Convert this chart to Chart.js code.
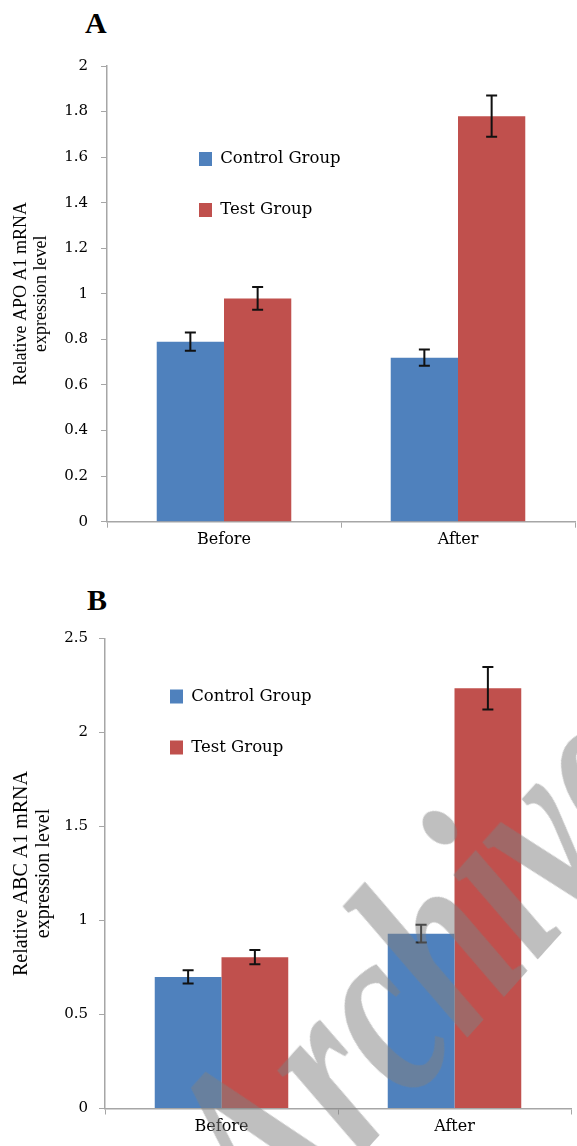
<!DOCTYPE html>
<html><head><meta charset="utf-8">
<script src="https://cdn.jsdelivr.net/npm/chart.js@4.4.0/dist/chart.umd.min.js"></script>
<style>
html,body{margin:0;padding:0;background:#fff;width:577px;height:1146px;overflow:hidden;position:relative;}
#wrapA{position:absolute;left:0;top:0;width:577px;height:560px;}
#wrapB{position:absolute;left:0;top:575px;width:577px;height:571px;}
.lbl{position:absolute;font-family:"Liberation Serif",serif;font-weight:bold;font-size:30px;line-height:30px;color:#000;}
#wm{position:absolute;left:277px;top:1031px;font-family:"Liberation Serif",serif;font-weight:bold;font-style:italic;
  font-size:260px;line-height:260px;color:rgba(128,128,128,0.5);white-space:nowrap;pointer-events:none;
  transform-origin:0 218px;transform:rotate(-48deg) scale(0.72,1);z-index:5;}
</style></head><body>
<div class="lbl" style="left:85px;top:8px">A</div>
<div class="lbl" style="left:87px;top:585px">B</div>
<div id="wrapA"><canvas id="chartA"></canvas></div>
<div id="wrapB"><canvas id="chartB"></canvas></div>
<div id="wm">Archive</div>
<script>
// ---- data ----
const categories = ['Before', 'After'];
const seriesNames = ['Control Group', 'Test Group'];
const apoControl = [0.79, 0.72];
const apoTest = [0.98, 1.78];
const apoControlErr = [0.04, 0.036];
const apoTestErr = [0.05, 0.09];
const abcControl = [0.70, 0.93];
const abcTest = [0.805, 2.235];
const abcControlErr = [0.035, 0.047];
const abcTestErr = [0.038, 0.113];
const apoTicks = [0, 0.2, 0.4, 0.6, 0.8, 1, 1.2, 1.4, 1.6, 1.8, 2];
const abcTicks = [0, 0.5, 1, 1.5, 2, 2.5];
const apoTitle = ['Relative APO A1 mRNA', 'expression level'];
const abcTitle = ['Relative ABC A1 mRNA', 'expression level'];

const BLUE = '#4F81BD', RED = '#C0504D', AXIS = '#a6a6a6';

const errorBarPlugin = {
  id: 'errorBars',
  afterDatasetsDraw(chart) {
    const ctx = chart.ctx, y = chart.scales.y;
    chart.data.datasets.forEach((ds, i) => {
      const meta = chart.getDatasetMeta(i);
      meta.data.forEach((bar, j) => {
        const v = ds.data[j], e = ds.errors[j];
        const yt = y.getPixelForValue(v + e), yb = y.getPixelForValue(v - e);
        ctx.save();
        ctx.strokeStyle = '#111'; ctx.lineWidth = 2;
        ctx.beginPath();
        ctx.moveTo(bar.x, yt); ctx.lineTo(bar.x, yb);
        ctx.moveTo(bar.x - 5.5, yt); ctx.lineTo(bar.x + 5.5, yt);
        ctx.moveTo(bar.x - 5.5, yb); ctx.lineTo(bar.x + 5.5, yb);
        ctx.stroke();
        ctx.restore();
      });
    });
  }
};

function legendShift(dx, dy) {
  return {
    id: 'legendShift',
    afterLayout(chart) {
      const lg = chart.legend, ca = chart.chartArea;
      if (!lg) return;
      lg.left = ca.left + dx;
      lg.top = ca.top + dy;
    }
  };
}

function makeChart(id, ctrl, test, ctrlErr, testErr, ticks, title, g) {
  return new Chart(document.getElementById(id), {
    type: 'bar',
    data: {
      labels: categories,
      datasets: [
        { label: seriesNames[0], data: ctrl, errors: ctrlErr, backgroundColor: BLUE, borderWidth: 0,
          categoryPercentage: g.cat, barPercentage: 1 },
        { label: seriesNames[1], data: test, errors: testErr, backgroundColor: RED, borderWidth: 0,
          categoryPercentage: g.cat, barPercentage: 1 }
      ]
    },
    options: {
      responsive: true, maintainAspectRatio: false, animation: false,
      layout: { padding: { left: 0, right: g.right, top: g.top, bottom: 0 } },
      plugins: {
        legend: {
          position: 'chartArea', align: 'start',
          labels: { boxWidth: 13, boxHeight: 14, padding: 34.5, color: '#000',
            font: { family: 'DejaVu Serif', size: 16.5 } }
        },
        tooltip: { enabled: false }
      },
      scales: {
        x: {
          grid: { display: true, drawOnChartArea: false, drawTicks: true, tickLength: 6, color: AXIS, offset: true },
          border: { display: true, color: AXIS, width: 1.5 },
          ticks: { color: '#000', padding: 3, font: { family: 'DejaVu Serif', size: 16 } },
          afterFit: (s) => { s.height = g.xh; }
        },
        y: {
          min: ticks[0], max: ticks[ticks.length - 1],
          afterBuildTicks: (s) => { s.ticks = ticks.map(v => ({ value: v })); },
          grid: { drawOnChartArea: false, drawTicks: true, tickLength: 6, color: AXIS },
          border: { display: true, color: AXIS, width: 1.5 },
          ticks: { color: '#000', padding: g.tpad, font: { family: 'DejaVu Serif', size: 15 },
            callback: (v) => String(v) },
          title: { display: true, text: title, color: '#000',
            font: { family: 'Liberation Serif', size: g.tsize, lineHeight: 1.1 },
            padding: { top: g.tofs, bottom: 0 } },
          afterFit: (s) => { s.width = g.yw; }
        }
      }
    },
    plugins: [errorBarPlugin, legendShift(g.ldx, g.ldy)]
  });
}

makeChart('chartA', apoControl, apoTest, apoControlErr, apoTestErr, apoTicks, apoTitle,
  { cat: 0.575, right: 2, top: 66, xh: 38.3, yw: 107, tpad: 13, tsize: 18, tofs: 11.8, ldx: 57.5, ldy: 50.25 });
makeChart('chartB', abcControl, abcTest, abcControlErr, abcTestErr, abcTicks, abcTitle,
  { cat: 0.573, right: 6, top: 63.5, xh: 37.5, yw: 105, tpad: 11, tsize: 20, tofs: 10.7, ldx: 30.5, ldy: 15.25 });
</script>
</body></html>
